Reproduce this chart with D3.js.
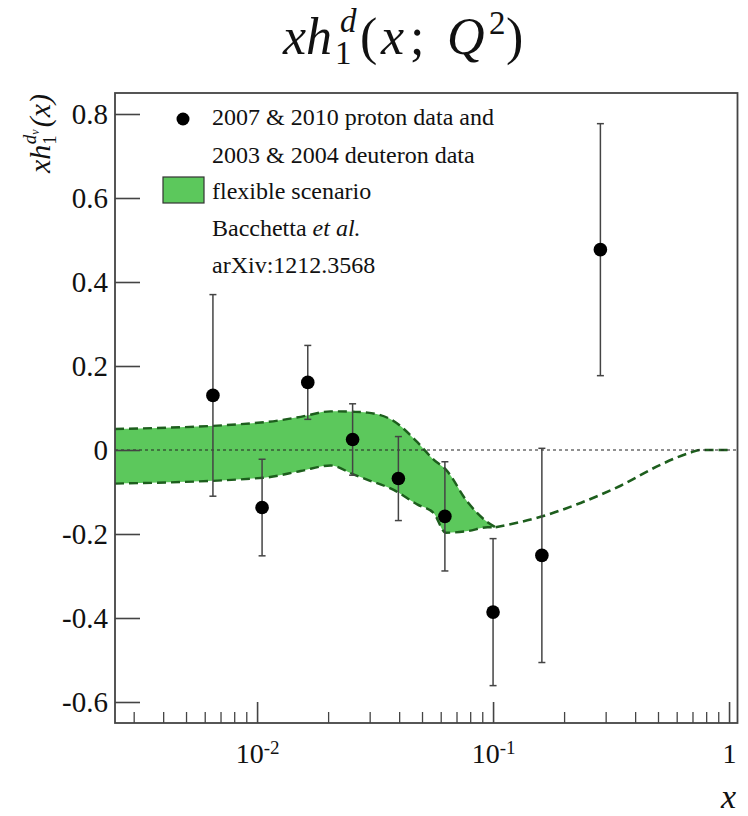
<!DOCTYPE html>
<html>
<head>
<meta charset="utf-8">
<script src="https://cdn.jsdelivr.net/npm/d3@7"></script>
</head>
<body style="margin:0;background:#fff">
<svg id="fig" width="748" height="816" style="display:block"></svg>
<script>
// ---- data ----
const pointX = [0.0065, 0.0105, 0.0164, 0.0254, 0.0397, 0.0625, 0.1, 0.161, 0.285];
const pointY = [0.13, -0.137, 0.161, 0.025, -0.068, -0.158, -0.386, -0.251, 0.477];
const pointErr = [0.24, 0.115, 0.088, 0.085, 0.10, 0.13, 0.175, 0.255, 0.30];

const bandX = [0.0025, 0.0107, 0.0153, 0.0205, 0.0256, 0.0294, 0.0379, 0.0479, 0.056, 0.063, 0.078, 0.0948, 0.1025];
const bandUpper = [0.050, 0.066, 0.079, 0.092, 0.091, 0.089, 0.069, 0.018, -0.023, -0.046, -0.124, -0.172, -0.184];
const bandLower = [-0.080, -0.066, -0.050, -0.037, -0.058, -0.071, -0.095, -0.130, -0.150, -0.197, -0.193, -0.184, -0.184];

const tailX = [0.1025, 0.159, 0.235, 0.347, 0.513, 0.687, 0.757, 1.0];
const tailY = [-0.184, -0.159, -0.126, -0.085, -0.035, -0.006, 0, 0];

const yTicks = [-0.6, -0.4, -0.2, 0, 0.2, 0.4, 0.6, 0.8];
const yTickLabels = ["-0.6", "-0.4", "-0.2", "0", "0.2", "0.4", "0.6", "0.8"];
const xMajorTicks = [0.01, 0.1, 1];
const xMajorBase = ["10", "10", "1"];
const xMajorExp = ["-2", "-1", ""];
const xMinorTicks = [0.003,0.004,0.005,0.006,0.007,0.008,0.009,
                     0.02,0.03,0.04,0.05,0.06,0.07,0.08,0.09,
                     0.2,0.3,0.4,0.5,0.6,0.7,0.8,0.9];

const legendLines = ["2007 & 2010 proton data and", "2003 & 2004 deuteron data", "flexible scenario", "Bacchetta ", "arXiv:1212.3568"];

// ---- layout ----
const FONT = "Liberation Serif";
const L = 115, R = 737.5, T = 93, B = 723;
const svg = d3.select("#fig");
const x = d3.scaleLog().domain([0.0025, 1.086]).range([L, R]);
const y = d3.scaleLinear().domain([-0.65, 0.85]).range([B, T]);

const GREEN = "#5cc85c";
const DKGREEN = "#1d5e1d";

function txt(sel) {
  return sel.attr("font-family", FONT).style("font-family", FONT, "important").attr("fill", "#111");
}

// band
const bandData = bandX.map((v, i) => ({x: v, u: bandUpper[i], l: bandLower[i]}));
svg.append("path").datum(bandData)
  .attr("d", d3.area().x(d => x(d.x)).y0(d => y(d.l)).y1(d => y(d.u)).curve(d3.curveMonotoneX))
  .attr("fill", GREEN).attr("stroke", "none");

const edgeLine = d3.line().x(d => x(d[0])).y(d => y(d[1])).curve(d3.curveMonotoneX);
[bandUpper, bandLower].forEach(arr => {
  svg.append("path").datum(bandX.map((v, i) => [v, arr[i]]))
    .attr("d", edgeLine).attr("fill", "none")
    .attr("stroke", DKGREEN).attr("stroke-width", 2.4).attr("stroke-dasharray", "9,5");
});
svg.append("path").datum(tailX.map((v, i) => [v, tailY[i]]))
  .attr("d", edgeLine).attr("fill", "none")
  .attr("stroke", DKGREEN).attr("stroke-width", 2.6).attr("stroke-dasharray", "9,5");

// zero line
svg.append("line").attr("x1", L).attr("x2", R).attr("y1", y(0)).attr("y2", y(0))
  .attr("stroke", "#222").attr("stroke-width", 1.2).attr("stroke-dasharray", "3,3");

// error bars
const pts = pointX.map((v, i) => ({x: v, y: pointY[i], e: pointErr[i]}));
const eb = svg.append("g").attr("stroke", "#444").attr("stroke-width", 1.5);
pts.forEach(p => {
  const cx = x(p.x);
  eb.append("line").attr("x1", cx).attr("x2", cx).attr("y1", y(p.y + p.e)).attr("y2", y(p.y - p.e));
  eb.append("line").attr("x1", cx - 3.5).attr("x2", cx + 3.5).attr("y1", y(p.y + p.e)).attr("y2", y(p.y + p.e));
  eb.append("line").attr("x1", cx - 3.5).attr("x2", cx + 3.5).attr("y1", y(p.y - p.e)).attr("y2", y(p.y - p.e));
});
svg.append("g").selectAll("circle").data(pts).join("circle")
  .attr("cx", d => x(d.x)).attr("cy", d => y(d.y)).attr("r", 6.8).attr("fill", "#000");

// frame
svg.append("rect").attr("x", L).attr("y", T).attr("width", R - L).attr("height", B - T)
  .attr("fill", "none").attr("stroke", "#444").attr("stroke-width", 1.8);

// y axis
const yAxis = d3.axisLeft(y).tickValues(yTicks).tickSize(-25).tickPadding(7)
  .tickFormat((d, i) => yTickLabels[i]);
const gy = svg.append("g").attr("transform", `translate(${L},0)`).call(yAxis);
gy.attr("font-family", FONT);
gy.select(".domain").remove();
gy.selectAll(".tick line").attr("stroke", "#444").attr("stroke-width", 1.6);
txt(gy.selectAll(".tick text")).attr("font-size", 29).attr("dy", "0.34em");

// x axis: minor
const gxm = svg.append("g").attr("transform", `translate(0,${B})`)
  .call(d3.axisBottom(x).tickValues(xMinorTicks).tickSize(-11).tickFormat(""));
gxm.select(".domain").remove();
gxm.selectAll(".tick line").attr("stroke", "#444").attr("stroke-width", 1.3);
// x axis: major
const gx = svg.append("g").attr("transform", `translate(0,${B})`)
  .call(d3.axisBottom(x).tickValues(xMajorTicks).tickSize(-21).tickFormat(""));
gx.attr("font-family", FONT);
gx.select(".domain").remove();
gx.selectAll(".tick line").attr("stroke", "#444").attr("stroke-width", 1.6);
gx.selectAll(".tick").each(function(d, i) {
  const t = txt(d3.select(this).append("text")).attr("y", 40).attr("text-anchor", "middle")
    .attr("font-size", 28);
  t.append("tspan").text(xMajorBase[i]);
  if (xMajorExp[i]) t.append("tspan").attr("font-size", 19).attr("dy", -9).text(xMajorExp[i]);
});

// axis titles
txt(svg.append("text")).attr("x", 736).attr("y", 808).attr("text-anchor", "end")
  .attr("font-size", 34).attr("font-style", "italic").text("x");

const yl = txt(svg.append("text")).attr("transform", `translate(50,94) rotate(-90)`)
  .attr("text-anchor", "end").attr("font-size", 30).attr("font-style", "italic");
yl.append("tspan").text("xh");
yl.append("tspan").attr("font-size", 19).attr("dy", 6).attr("font-style", "normal").text("1");
yl.append("tspan").attr("font-size", 19).attr("dx", -9).attr("dy", -20).text("d");
yl.append("tspan").attr("font-size", 12).attr("dy", 3).text("v");
yl.append("tspan").attr("dy", 11).attr("dx", 2).text("(x)");

// title
const tt = txt(svg.append("text")).attr("y", 54).attr("font-size", 52);
tt.append("tspan").attr("x", 283).attr("font-style", "italic").text("xh");
tt.append("tspan").attr("x", 335).attr("dy", 10).attr("font-size", 33).text("1");
tt.append("tspan").attr("x", 340).attr("dy", -32).attr("font-size", 33).attr("font-style", "italic").text("d");
tt.append("tspan").attr("x", 360).attr("dy", 22).text("(");
tt.append("tspan").attr("x", 381).attr("font-style", "italic").text("x");
tt.append("tspan").attr("x", 410).text(";");
tt.append("tspan").attr("x", 447).attr("font-style", "italic").text("Q");
tt.append("tspan").attr("x", 489).attr("dy", -20).attr("font-size", 33).text("2");
tt.append("tspan").attr("x", 506).attr("dy", 20).text(")");

// legend
const lg = svg.append("g");
const baseY = [125, 163, 199, 236, 273];
lg.append("circle").attr("cx", 183).attr("cy", 119).attr("r", 6.5).attr("fill", "#000");
lg.append("rect").attr("x", 163).attr("y", 177).attr("width", 41).attr("height", 26)
  .attr("fill", GREEN).attr("stroke", "#333").attr("stroke-width", 1.2);
legendLines.forEach((s, i) => {
  const t = txt(lg.append("text")).attr("x", 212).attr("y", baseY[i]).attr("font-size", 24).text(s);
  if (i === 3) t.append("tspan").attr("font-style", "italic").text("et al.");
});
</script>
</body>
</html>
